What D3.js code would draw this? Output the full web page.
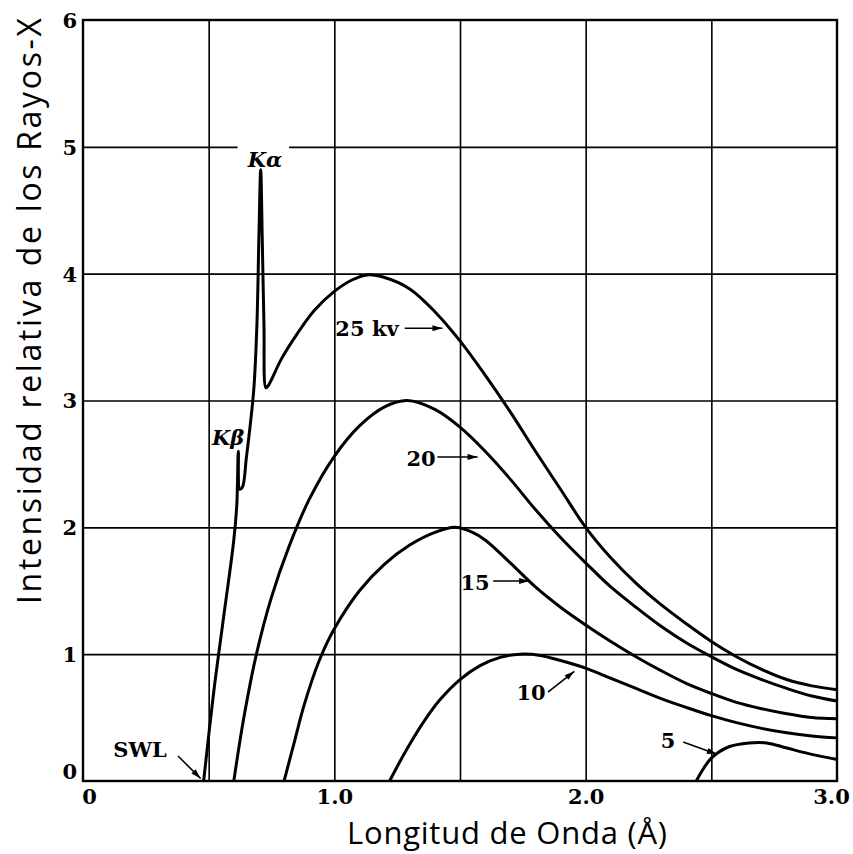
<!DOCTYPE html>
<html>
<head>
<meta charset="utf-8">
<script src="https://cdn.jsdelivr.net/npm/d3@7/dist/d3.min.js"></script>
<style>
  body { margin: 0; background: #fff; }
  svg { display: block; }
</style>
</head>
<body>
<div id="chart"></div>
<script>
  // [wavelength (Å), relative intensity]
  const kv25 = [[0.48,0],[0.52,0.7],[0.56,1.3],[0.60,1.9],[0.612,2.18],[0.618,2.6],[0.624,2.3],[0.635,2.32],
    [0.65,2.55],[0.665,2.8],[0.68,3.1],[0.692,3.6],[0.70,4.3],[0.707,4.82],[0.713,4.3],[0.72,3.6],[0.728,3.1],
    [0.738,3.12],[0.79,3.33],[0.85,3.52],[0.92,3.71],[1.0,3.86],[1.07,3.95],[1.13,3.99],[1.2,3.97],[1.3,3.88],
    [1.4,3.7],[1.5,3.47],[1.6,3.2],[1.7,2.91],[1.8,2.6],[1.9,2.3],[2.0,2.0],[2.1,1.76],[2.2,1.56],[2.3,1.39],
    [2.4,1.24],[2.5,1.1],[2.6,0.98],[2.7,0.88],[2.8,0.8],[2.9,0.75],[3.0,0.72]];
  const kv20 = [[0.60,0],[0.64,0.5],[0.69,1.0],[0.75,1.45],[0.82,1.85],[0.9,2.22],[1.0,2.56],[1.1,2.8],
    [1.2,2.95],[1.29,3.0],[1.4,2.93],[1.5,2.79],[1.6,2.6],[1.7,2.38],[1.8,2.14],[1.9,1.92],[2.0,1.72],
    [2.1,1.53],[2.2,1.37],[2.3,1.22],[2.4,1.09],[2.5,0.98],[2.6,0.88],[2.7,0.8],[2.8,0.73],[2.9,0.67],[3.0,0.63]];
  const kv15 = [[0.80,0],[0.84,0.3],[0.88,0.6],[0.94,0.95],[1.0,1.2],[1.1,1.5],[1.2,1.71],[1.3,1.86],[1.4,1.96],
    [1.48,2.0],[1.55,1.96],[1.6,1.9],[1.7,1.72],[1.8,1.53],[1.9,1.37],[2.0,1.23],[2.1,1.1],[2.2,0.98],
    [2.3,0.87],[2.4,0.77],[2.5,0.69],[2.6,0.62],[2.7,0.57],[2.8,0.53],[2.9,0.5],[3.0,0.49]];
  const kv10 = [[1.22,0],[1.26,0.15],[1.3,0.29],[1.36,0.48],[1.42,0.64],[1.5,0.8],[1.58,0.91],[1.66,0.975],
    [1.74,1.0],[1.82,0.99],[1.9,0.95],[2.0,0.89],[2.1,0.81],[2.2,0.73],[2.3,0.65],[2.4,0.58],[2.5,0.515],
    [2.6,0.46],[2.7,0.415],[2.8,0.38],[2.9,0.355],[3.0,0.34]];
  const kv5 = [[2.44,0],[2.5,0.18],[2.57,0.27],[2.65,0.3],[2.72,0.3],[2.8,0.26],[2.9,0.21],[3.0,0.17]];

  const xTicks = [0, 1, 2, 3];
  const xTickLabels = ['0', '1.0', '2.0', '3.0'];
  const xGrid = [0.5, 1, 1.5, 2, 2.5];
  const yTicks = [0, 1, 2, 3, 4, 5, 6];
  const curveLabels = ['25 kv', '20', '15', '10', '5'];

  (() => {
    const width = 853, height = 854;
    const serif = '"DejaVu Serif", serif';

    let svg = d3.select('#chart').append('svg')
      .attr('width', width)
      .attr('height', height);

    let x = d3.scaleLinear().domain([0, 3]).range([83, 837]);
    let y = d3.scaleLinear().domain([0, 6]).range([781, 20]);

    // grid
    svg.append('g')
      .attr('transform', `translate(0,${y(0)})`)
      .call(d3.axisBottom(x).tickValues(xGrid).tickSize(-(y(0) - y(6))).tickFormat(''))
      .call(g => g.select('.domain').remove())
      .selectAll('line').attr('stroke', '#000').attr('stroke-width', 1.6);

    svg.append('g')
      .attr('transform', `translate(${x(0)},0)`)
      .call(d3.axisLeft(y).tickValues(yTicks.slice(1, -1)).tickSize(-(x(3) - x(0))).tickFormat(''))
      .call(g => g.select('.domain').remove())
      .selectAll('line').attr('stroke', '#000').attr('stroke-width', 1.6);

    svg.append('rect')
      .attr('x', x(0)).attr('y', y(6))
      .attr('width', x(3) - x(0)).attr('height', y(0) - y(6))
      .attr('fill', 'none').attr('stroke', '#000').attr('stroke-width', 2.4);

    // tick labels
    let xAxis = svg.append('g')
      .attr('transform', `translate(0,${y(0)})`)
      .call(d3.axisBottom(x).tickValues(xTicks).tickSize(0).tickPadding(8)
        .tickFormat((d, i) => xTickLabels[i]));
    xAxis.select('.domain').remove();
    xAxis.selectAll('text')
      .attr('font-family', serif).attr('font-weight', 'bold').attr('font-size', 21).attr('fill', '#000')
      .attr('dx', d => d === 0 ? 6 : d === 3 ? -6 : 0);

    let yAxis = svg.append('g')
      .attr('transform', `translate(${x(0)},0)`)
      .call(d3.axisLeft(y).tickValues(yTicks).tickSize(0).tickPadding(6).tickFormat(d3.format('d')));
    yAxis.select('.domain').remove();
    yAxis.selectAll('text')
      .attr('font-family', serif).attr('font-weight', 'bold').attr('font-size', 21).attr('fill', '#000')
      .attr('dy', d => d === 0 ? '-0.1em' : '0.35em');

    // white gap behind K-alpha label
    svg.append('rect')
      .attr('x', x(0.615)).attr('y', y(5.1))
      .attr('width', x(0.82) - x(0.615)).attr('height', y(4.85) - y(5.1))
      .attr('fill', '#fff');

    // spectra
    let line = d3.line()
      .x(d => x(d[0]))
      .y(d => y(d[1]))
      .curve(d3.curveCatmullRom.alpha(0.5));

    [kv25, kv20, kv15, kv10, kv5].forEach(s => {
      svg.append('path')
        .datum(s)
        .attr('d', line)
        .attr('fill', 'none')
        .attr('stroke', '#000')
        .attr('stroke-width', 3)
        .attr('stroke-linejoin', 'round');
    });

    // arrowheads
    svg.append('defs').append('marker')
      .attr('id', 'head')
      .attr('viewBox', '0 0 10 6')
      .attr('refX', 10).attr('refY', 3)
      .attr('markerWidth', 12).attr('markerHeight', 6)
      .attr('markerUnits', 'userSpaceOnUse')
      .attr('orient', 'auto')
      .append('path').attr('d', 'M0,0L10,3L0,6Z').attr('fill', '#000');

    let note = (txt, px, py, italic) => svg.append('text')
      .attr('x', x(px)).attr('y', y(py))
      .attr('text-anchor', 'middle')
      .attr('font-family', serif).attr('font-weight', 'bold')
      .attr('font-style', italic ? 'italic' : 'normal')
      .attr('font-size', 21).attr('fill', '#000')
      .text(txt);

    let arrow = (x1, y1, x2, y2) => svg.append('line')
      .attr('x1', x(x1)).attr('y1', y(y1)).attr('x2', x(x2)).attr('y2', y(y2))
      .attr('stroke', '#000').attr('stroke-width', 1.6)
      .attr('marker-end', 'url(#head)');

    note('Kα', 0.724, 4.84, true);
    note('Kβ', 0.577, 2.65, true);

    note(curveLabels[0], 1.13, 3.51);
    arrow(1.28, 3.57, 1.43, 3.57);
    note(curveLabels[1], 1.345, 2.48);
    arrow(1.41, 2.555, 1.57, 2.555);
    note(curveLabels[2], 1.56, 1.506);
    arrow(1.632, 1.577, 1.775, 1.577);
    note(curveLabels[3], 1.783, 0.639);
    arrow(1.85, 0.70, 1.955, 0.865);
    note(curveLabels[4], 2.328, 0.26);
    arrow(2.388, 0.308, 2.522, 0.21);
    note('SWL', 0.227, 0.19);
    arrow(0.378, 0.197, 0.468, 0.02);

    // axis titles
    svg.append('text')
      .attr('x', 507).attr('y', 844)
      .attr('text-anchor', 'middle')
      .attr('font-family', '"Open Sans", sans-serif').attr('font-size', 31).attr('fill', '#000')
      .attr('textLength', 320).attr('lengthAdjust', 'spacing')
      .text('Longitud de Onda (Å)');

    svg.append('text')
      .attr('transform', 'translate(41,311) rotate(-90)')
      .attr('text-anchor', 'middle')
      .attr('font-family', '"Open Sans", sans-serif').attr('font-size', 32).attr('fill', '#000')
      .attr('textLength', 586).attr('lengthAdjust', 'spacing')
      .text('Intensidad relativa de los Rayos-X');
  })();
</script>
</body>
</html>
